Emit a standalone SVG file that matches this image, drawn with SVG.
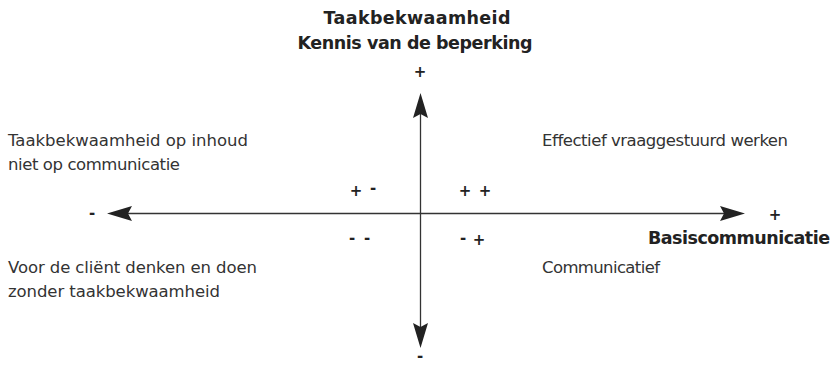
<svg xmlns="http://www.w3.org/2000/svg" width="834" height="365" viewBox="0 0 834 365">
<style>
.t{font-family:"DejaVu Sans","Liberation Sans",sans-serif;font-size:16.5px;fill:#333}
.b{font-family:"DejaVu Sans","Liberation Sans",sans-serif;font-size:17.5px;font-weight:bold;fill:#222}
.s{font-family:"DejaVu Sans","Liberation Sans",sans-serif;font-size:15px;font-weight:bold;fill:#222;text-anchor:middle}
.ax{stroke:#333;stroke-width:1.3;fill:none}
</style>
<defs>
<marker id="ah" viewBox="0 0 25 15" refX="15" refY="7.5" markerWidth="25" markerHeight="15" markerUnits="userSpaceOnUse" orient="auto-start-reverse">
<path d="M0,0 L25,7.5 L0,15 L4,7.5 Z" fill="#222"/>
</marker>
</defs>
<g id="connectors">
<line class="ax" x1="117" y1="213.5" x2="735" y2="213.5" marker-start="url(#ah)" marker-end="url(#ah)"/>
<line class="ax" x1="420.5" y1="103" x2="420.5" y2="338" marker-start="url(#ah)" marker-end="url(#ah)"/>
</g>
<g id="title">
<text class="b" x="417" y="24" text-anchor="middle" textLength="187">Taakbekwaamheid</text>
<text class="b" x="415" y="49" text-anchor="middle" textLength="235">Kennis van de beperking</text>
</g>
<g id="top-left">
<text class="t" x="8" y="146" textLength="240">Taakbekwaamheid op inhoud</text>
<text class="t" x="8" y="170" textLength="172">niet op communicatie</text>
</g>
<g id="top-right">
<text class="t" x="542" y="146" textLength="246">Effectief vraaggestuurd werken</text>
</g>
<g id="bottom-left">
<text class="t" x="8" y="273" textLength="249">Voor de cliënt denken en doen</text>
<text class="t" x="8" y="297" textLength="212">zonder taakbekwaamheid</text>
</g>
<g id="bottom-right">
<text class="t" x="542" y="273" textLength="118">Communicatief</text>
</g>
<g id="x-label">
<text class="b" x="648" y="244" textLength="182">Basiscommunicatie</text>
</g>
<g id="signs">
<text class="s" x="420" y="77">+</text>
<text class="s" x="420" y="361">-</text>
<text class="s" x="92" y="218">-</text>
<text class="s" x="775" y="220">+</text>
<text class="s" x="356" y="196">+</text>
<text class="s" x="373" y="193">-</text>
<text class="s" x="465" y="196">+</text>
<text class="s" x="485" y="196">+</text>
<text class="s" x="352" y="243">-</text>
<text class="s" x="367" y="243">-</text>
<text class="s" x="463" y="243">-</text>
<text class="s" x="479" y="245">+</text>
</g>
</svg>
